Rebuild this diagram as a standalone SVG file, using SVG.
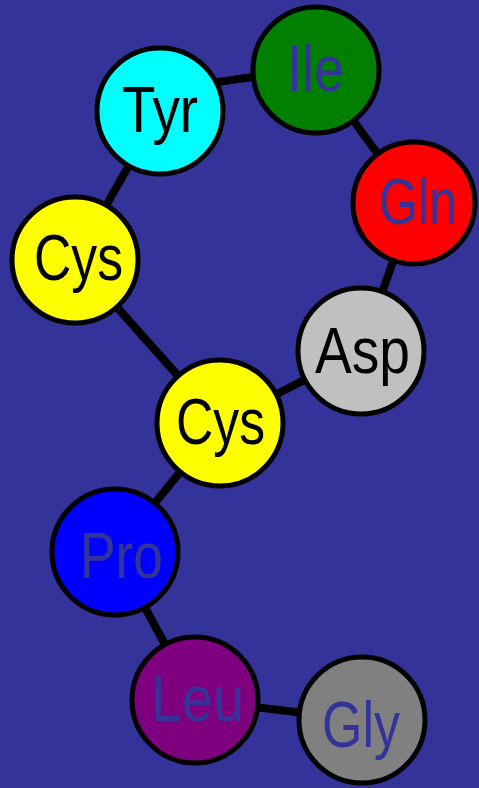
<svg xmlns="http://www.w3.org/2000/svg" width="479" height="788" viewBox="0 0 479 788">
  <style>
    .bg { fill: #333399; }
    .bond { stroke: #000000; stroke-width: 8; stroke-linecap: butt; fill: none; }
    .res circle { stroke: #000000; stroke-width: 5; }
    .res text { font-family: "Liberation Sans", Arial, sans-serif; font-size: 64px; }
    .dark { fill: #000000; }
    .navy { fill: #333399; }
  </style>
  <rect class="bg" x="0" y="0" width="479" height="788"/>

  <!-- peptide bonds between residues -->
  <g id="connectors">
    <line class="bond" x1="190" y1="86" x2="280" y2="73"/>
    <line class="bond" x1="160" y1="111" x2="75" y2="260"/>
    <line class="bond" x1="316" y1="70" x2="414" y2="203"/>
    <line class="bond" x1="414" y1="203" x2="361" y2="351"/>
    <line class="bond" x1="361" y1="351" x2="220" y2="423"/>
    <line class="bond" x1="75" y1="260" x2="220" y2="423"/>
    <line class="bond" x1="220" y1="423" x2="115" y2="552"/>
    <line class="bond" x1="115" y1="552" x2="195" y2="700"/>
    <line class="bond" x1="195" y1="700" x2="362" y2="720"/>
  </g>

  <g id="tyr" class="res">
    <circle cx="160" cy="111" r="63" fill="#00FFFF"/>
    <text class="dark" x="122" y="132" textLength="76" lengthAdjust="spacingAndGlyphs">Tyr</text>
  </g>
  <g id="ile" class="res">
    <circle cx="316" cy="70" r="63" fill="#007F00"/>
    <text class="navy" x="287" y="91" textLength="57" lengthAdjust="spacingAndGlyphs">Ile</text>
  </g>
  <g id="gln" class="res">
    <circle cx="414" cy="203" r="61" fill="#FF0000"/>
    <text class="navy" x="379" y="224" textLength="78" lengthAdjust="spacingAndGlyphs">Gln</text>
  </g>
  <g id="cys1" class="res">
    <circle cx="75" cy="260" r="63" fill="#FFFF00"/>
    <text class="dark" x="34" y="280" textLength="89" lengthAdjust="spacingAndGlyphs">Cys</text>
  </g>
  <g id="asp" class="res">
    <circle cx="361" cy="351" r="63" fill="#C0C0C0"/>
    <text class="dark" x="315" y="373" textLength="95" lengthAdjust="spacingAndGlyphs">Asp</text>
  </g>
  <g id="cys2" class="res">
    <circle cx="220" cy="423" r="63" fill="#FFFF00"/>
    <text class="dark" x="176" y="444" textLength="89" lengthAdjust="spacingAndGlyphs">Cys</text>
  </g>
  <g id="pro" class="res">
    <circle cx="115" cy="552" r="63" fill="#0000FF"/>
    <text class="navy" x="80" y="578" textLength="83" lengthAdjust="spacingAndGlyphs">Pro</text>
  </g>
  <g id="leu" class="res">
    <circle cx="195" cy="700" r="63" fill="#7F007F"/>
    <text class="navy" x="151" y="721" textLength="93" lengthAdjust="spacingAndGlyphs">Leu</text>
  </g>
  <g id="gly" class="res">
    <circle cx="362" cy="720" r="63" fill="#808080"/>
    <text class="navy" x="322" y="747" textLength="78" lengthAdjust="spacingAndGlyphs">Gly</text>
  </g>
</svg>
